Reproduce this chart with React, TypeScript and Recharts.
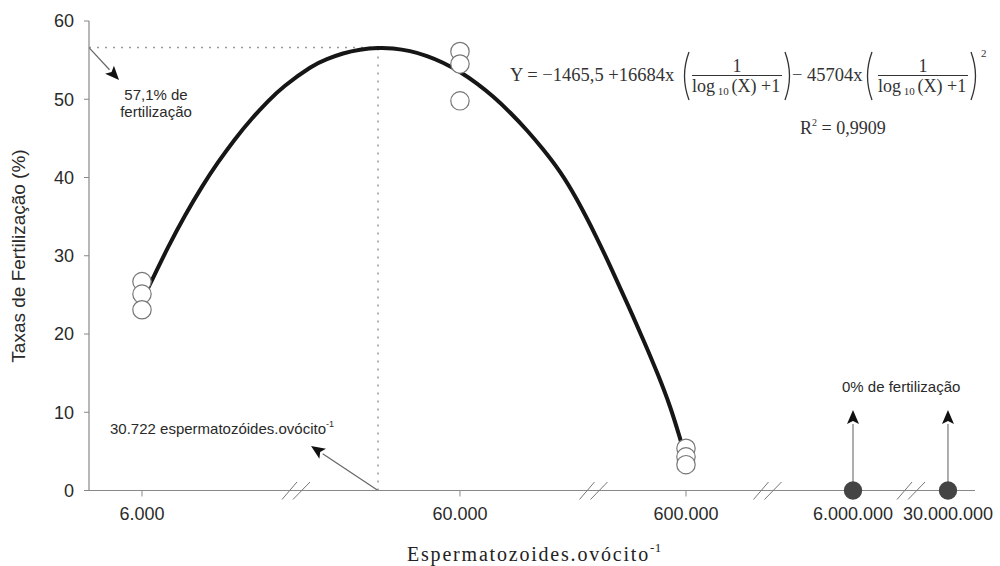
import React from 'react';
import { ComposedChart, Line, Scatter, XAxis, YAxis, ReferenceLine, ReferenceDot } from 'recharts';

// x axis: positions along the (broken, non-uniform) axis, in axis units 0..100
const CATEGORY_LABELS = ['6.000', '60.000', '600.000', '6.000.000', '30.000.000'];
const CATEGORY_POS = [5.98, 41.87, 67.38, 86.23, 96.95];
const CATEGORY_HAS_TICK = [true, true, true, false, false];
const BREAK_POS = [23.36, 56.94, 76.58, 92.78];
const Y_TICKS = [0, 10, 20, 30, 40, 50, 60];

// fitted curve
const CURVE_POS = [5.98, 7.11, 8.92, 10.84, 12.75, 14.56, 16.48, 18.4, 20.2, 22.12, 24.94, 26.86, 28.67, 30.59, 32.62, 34.31, 36.23, 38.15, 39.95, 41.87, 43.79, 45.6, 47.52, 49.44, 51.24, 53.16, 55.08, 57.22, 59.03, 60.83, 62.64, 64.22, 65.58, 66.59, 67.38];
const CURVE_VAL = [24.3, 26.9, 31.06, 35.14, 38.8, 41.92, 44.9, 47.54, 49.73, 51.73, 54.03, 55.13, 55.85, 56.33, 56.55, 56.49, 56.15, 55.52, 54.67, 53.48, 52.0, 50.35, 48.31, 46.01, 43.61, 40.72, 37.15, 32.49, 28.17, 23.69, 19.05, 14.78, 10.7, 7.1, 4.1];

// observations (open circles)
const OBS_POS = [5.98, 5.98, 5.98, 41.87, 41.87, 41.87, 67.38, 67.38, 67.38];
const OBS_VAL = [26.7, 25.1, 23.1, 56.1, 54.5, 49.8, 5.4, 4.3, 3.3];

// 0% fertilization (filled dots)
const ZERO_POS = [86.23, 96.95];
const ZERO_VAL = [0, 0];

const PEAK_POS = 32.62;
const PEAK_VAL = 56.6;
const PEAK_ARROW_TIP = { x: 3.39, y: 52.46 };
const DOSE_ARROW_TIP = { x: 25.06, y: 5.69 };
const ZERO_ARROW_TOP = 10.29;

const curveData = CURVE_POS.map((p, i) => ({ pos: p, val: CURVE_VAL[i] }));
const obsData = OBS_POS.map((p, i) => ({ pos: p, val: OBS_VAL[i] }));
const zeroData = ZERO_POS.map((p, i) => ({ pos: p, val: ZERO_VAL[i] }));

const SANS = '"Liberation Sans", Arial, sans-serif';
const SERIF = '"Liberation Serif", "Times New Roman", serif';
const AXIS_COLOR = '#888';
const TEXT_COLOR = '#2a2a2a';

const arrowShape = (lineColor: string) => (props: any) => {
  const { x1, y1, x2, y2 } = props;
  const dx = x2 - x1;
  const dy = y2 - y1;
  const len = Math.sqrt(dx * dx + dy * dy) || 1;
  const ux = dx / len;
  const uy = dy / len;
  const hl = 14;
  const hw = 6;
  const bx = x2 - ux * hl;
  const by = y2 - uy * hl;
  const px = -uy;
  const py = ux;
  return (
    <g>
      <line x1={x1} y1={y1} x2={bx} y2={by} stroke={lineColor} strokeWidth={1.2} />
      <polygon
        points={`${x2},${y2} ${bx + px * hw},${by + py * hw} ${bx + ux * 3},${by + uy * 3} ${bx - px * hw},${by - py * hw}`}
        fill="#111"
      />
    </g>
  );
};

const breakShape = (props: any) => {
  const { cx, cy } = props;
  return (
    <g>
      <line x1={cx - 14} y1={cy + 9} x2={cx + 1} y2={cy - 8.5} stroke="#777" strokeWidth={1} />
      <line x1={cx - 3} y1={cy + 9} x2={cx + 14} y2={cy - 8.5} stroke="#777" strokeWidth={1} />
    </g>
  );
};

const XTick = (props: any) => {
  const { x, y, payload } = props;
  const i = CATEGORY_POS.indexOf(payload.value);
  const axisY = y - 5;
  return (
    <g>
      {CATEGORY_HAS_TICK[i] && <line x1={x} y1={axisY} x2={x} y2={axisY + 6} stroke={AXIS_COLOR} strokeWidth={1} />}
      <text x={x} y={axisY + 29.5} textAnchor="middle" fontSize={18} fontFamily={SANS} fill={TEXT_COLOR}>
        {CATEGORY_LABELS[i]}
      </text>
    </g>
  );
};

const Paren = ({ x, left }: { x: number; left: boolean }) => (
  <path
    d={left ? `M ${x + 4} 52 Q ${x - 5} 76 ${x + 4} 100` : `M ${x - 4} 52 Q ${x + 5} 76 ${x - 4} 100`}
    stroke="#333"
    strokeWidth={1.3}
    fill="none"
  />
);

const Fraction = ({ x0, x1 }: { x0: number; x1: number }) => (
  <g>
    <text x={(x0 + x1) / 2} y={72} textAnchor="middle" fontSize={18} fontFamily={SERIF} fill="#333">1</text>
    <line x1={x0} y1={75.5} x2={x1} y2={75.5} stroke="#333" strokeWidth={1} />
    <text x={x0} y={92} fontSize={18} fontFamily={SERIF} fill="#333">
      log
      <tspan fontSize={11} dy={3}> 10 </tspan>
      <tspan dy={-3}>(X) +1</tspan>
    </text>
  </g>
);

export default function App() {
  return (
    <div style={{ position: 'absolute', left: 0, top: 0, width: 1000, height: 566, background: '#fff' }}>
      <ComposedChart
        width={1000}
        height={566}
        margin={{ top: 21, right: 25, bottom: 45.5, left: 29 }}
      >
        <XAxis
          dataKey="pos"
          type="number"
          domain={[0, 100]}
          ticks={CATEGORY_POS}
          interval={0}
          tick={<XTick />}
          tickLine={false}
          tickSize={5}
          tickMargin={0}
          height={30}
          axisLine={{ stroke: AXIS_COLOR, strokeWidth: 1.2 }}
        />
        <YAxis
          type="number"
          domain={[0, 60]}
          ticks={Y_TICKS}
          interval={0}
          width={60}
          tickSize={5}
          tickMargin={10}
          tick={{ fontSize: 18, fill: TEXT_COLOR, fontFamily: SANS }}
          tickLine={{ stroke: AXIS_COLOR }}
          axisLine={{ stroke: AXIS_COLOR, strokeWidth: 1.2 }}
        />
        <ReferenceLine
          segment={[{ x: 0, y: PEAK_VAL }, { x: PEAK_POS, y: PEAK_VAL }]}
          stroke="#999"
          strokeWidth={1.5}
          strokeDasharray="2 6"
        />
        <ReferenceLine
          segment={[{ x: PEAK_POS, y: 0 }, { x: PEAK_POS, y: PEAK_VAL }]}
          stroke="#999"
          strokeWidth={1.5}
          strokeDasharray="2 6"
        />
        <ReferenceLine
          segment={[{ x: 0, y: PEAK_VAL }, PEAK_ARROW_TIP]}
          shape={arrowShape('#666')}
        />
        <ReferenceLine
          segment={[{ x: PEAK_POS, y: 0 }, DOSE_ARROW_TIP]}
          shape={arrowShape('#666')}
        />
        {ZERO_POS.map((p) => (
          <ReferenceLine
            key={'za' + p}
            segment={[{ x: p, y: 0 }, { x: p, y: ZERO_ARROW_TOP }]}
            shape={arrowShape('#777')}
          />
        ))}
        {BREAK_POS.map((p) => (
          <ReferenceDot key={'b' + p} x={p} y={0} r={1} shape={breakShape} />
        ))}
        <Line
          data={curveData}
          dataKey="val"
          type="natural"
          stroke="#161616"
          strokeWidth={4}
          dot={false}
          activeDot={false}
          isAnimationActive={false}
        />
        <Scatter
          data={obsData}
          dataKey="val"
          fill="#fff"
          stroke="#777"
          strokeWidth={1.2}
          shape={(p: any) => <circle cx={p.cx} cy={p.cy} r={9.2} fill="#fff" stroke="#777" strokeWidth={1.2} />}
          isAnimationActive={false}
        />
        <Scatter
          data={zeroData}
          dataKey="val"
          fill="#444"
          shape={(p: any) => <circle cx={p.cx} cy={p.cy} r={9.2} fill="#444" />}
          isAnimationActive={false}
        />
      </ComposedChart>
      <svg
        width={1000}
        height={566}
        style={{ position: 'absolute', left: 0, top: 0, pointerEvents: 'none' }}
      >
        <text transform="translate(24.5,256) rotate(-90)" textAnchor="middle" fontSize={19} fontFamily={SANS} fill={TEXT_COLOR}>
          Taxas de Fertilização (%)
        </text>
        <text x={407} y={561} fontSize={20} fontFamily={SERIF} letterSpacing={1.8} fill="#222">
          Espermatozoides.ovócito
          <tspan fontSize={13} dy={-9} letterSpacing={0.5}>-1</tspan>
        </text>
        <text x={156} y={100} textAnchor="middle" fontSize={15} fontFamily={SANS} fill={TEXT_COLOR}>57,1% de</text>
        <text x={156} y={117} textAnchor="middle" fontSize={15} fontFamily={SANS} fill={TEXT_COLOR}>fertilização</text>
        <text x={110} y={434} fontSize={15} fontFamily={SANS} fill={TEXT_COLOR}>
          30.722 espermatozóides.ovócito
          <tspan fontSize={9} dy={-7}>-1</tspan>
        </text>
        <text x={842} y={391.5} fontSize={15} fontFamily={SANS} fill={TEXT_COLOR}>0% de fertilização</text>

        <text x={510} y={81} fontSize={18.5} fontFamily={SERIF} fill="#333">Y = −1465,5 +16684x</text>
        <Paren x={685} left />
        <Fraction x0={692} x1={782} />
        <Paren x={789} left={false} />
        <text x={792} y={81} fontSize={18.5} fontFamily={SERIF} fill="#333">− 45704x</text>
        <Paren x={868} left />
        <Fraction x0={878} x1={968} />
        <Paren x={975} left={false} />
        <text x={981} y={57} fontSize={11} fontFamily={SERIF} fill="#333">2</text>
        <text x={800} y={134} fontSize={18} fontFamily={SERIF} fill="#333">
          R
          <tspan fontSize={10} dy={-8}>2</tspan>
          <tspan dy={8}> = 0,9909</tspan>
        </text>
      </svg>
    </div>
  );
}
